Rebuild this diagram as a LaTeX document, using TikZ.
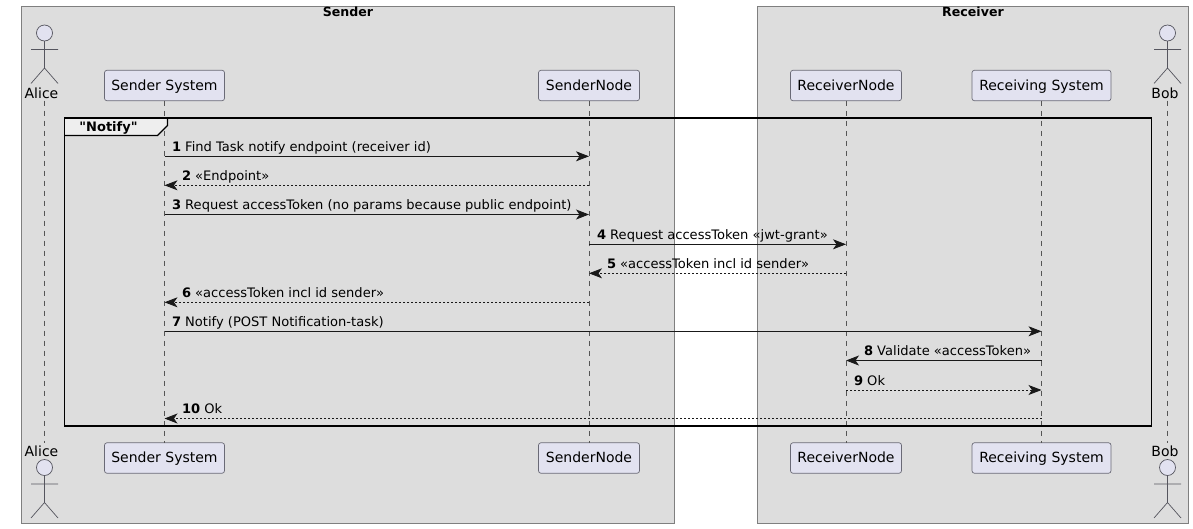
\documentclass[tikz,border=0pt]{standalone}
\usepackage{fontspec}
\setmainfont{DejaVu Sans}
% Family without the TeX ligature mapping, so straight quotes stay straight
\newfontfamily\plainquotes{DejaVu Sans}
\usetikzlibrary{arrows.meta}
\definecolor{boxgrey}{HTML}{DDDDDD}
\definecolor{boxedge}{HTML}{7F7F7F}
\definecolor{partfill}{HTML}{E2E2F0}
\definecolor{partedge}{HTML}{6A6A76}
\definecolor{lifegrey}{HTML}{555555}
\definecolor{tabfill}{HTML}{EEEEEE}
\tikzset{
  x=1pt, y=-1pt,
  every node/.style={font=\fontsize{13.05}{15}\selectfont, inner sep=0pt, outer sep=0pt},
  groupbox/.style={draw=boxedge, line width=0.9pt, fill=boxgrey},
  boxtitle/.style={font=\fontsize{12.6}{15}\selectfont\bfseries, anchor=base},
  participant/.style={draw=partedge, line width=0.7pt, fill=partfill, rounded corners=2.5pt, minimum height=30.5pt, text height=11pt, text depth=2pt, anchor=center, font=\fontsize{14}{16}\selectfont},
  actorlabel/.style={anchor=base, font=\fontsize{14}{16}\selectfont},
  actorshape/.style={draw=partedge!80!black, line width=0.7pt},
  lifeline/.style={draw=lifegrey, line width=0.55pt, dash pattern=on 5pt off 5pt},
  frameline/.style={draw=black, line width=1.5pt},
  syncmsg/.style={draw=black!90, line width=0.85pt, -{Stealth[length=13pt,width=10pt,inset=3.5pt]}},
  replymsg/.style={draw=black!90, line width=0.85pt, dash pattern=on 2pt off 2pt, -{Stealth[length=13pt,width=10pt,inset=3.5pt]}},
  msgtext/.style={anchor=base west},
}
% Stick figure standing under a head centred on the given point
\newcommand{\stickfigure}[2]{%
  \draw[actorshape, fill=partfill] (#1,#2) circle[radius=8pt];
  \draw[actorshape] (#1,#2+8) -- (#1,#2+35)
    (#1-13.5,#2+16.5) -- (#1+13.5,#2+16.5)
    (#1-13.5,#2+50.5) -- (#1,#2+35) -- (#1+13.5,#2+50.5);
}
\begin{document}
\begin{tikzpicture}
\useasboundingbox (0,0) rectangle (1193,528);

% Enclosing boxes
\path[groupbox] (21.5,6.5) rectangle (674.5,523);
\path[groupbox] (757.5,6.5) rectangle (1188.5,523);
\node[boxtitle] (sendertitle) at (348,16.5) {Sender};
\node[boxtitle] (receivertitle) at (973,16.5) {Receiver};

% Participants, top row
\node[participant, minimum width=120pt] (sys) at (164.5,85.5) {Sender System};
\node[participant, minimum width=101pt] (snode) at (589,85.5) {SenderNode};
\node[participant, minimum width=111pt] (rnode) at (846,85.5) {ReceiverNode};
\node[participant, minimum width=139pt] (rsys) at (1041.5,85.5) {Receiving System};
% Participants, bottom row
\node[participant, minimum width=120pt] (sysb) at (164.5,458) {Sender System};
\node[participant, minimum width=101pt] (snodeb) at (589,458) {SenderNode};
\node[participant, minimum width=111pt] (rnodeb) at (846,458) {ReceiverNode};
\node[participant, minimum width=139pt] (rsysb) at (1041.5,458) {Receiving System};

% Actors and their labels
\stickfigure{44.5}{33}
\stickfigure{1167.5}{33}
\stickfigure{44.5}{467.5}
\stickfigure{1167.5}{467.5}
\node[actorlabel] (alice) at (41.5,98) {Alice};
\node[actorlabel] (bob) at (1165,98) {Bob};
\node[actorlabel] (aliceb) at (41.5,456) {Alice};
\node[actorlabel] (bobb) at (1165,456) {Bob};
\coordinate (alicetop) at (44.5,100.5);
\coordinate (alicebot) at (44.5,443);
\coordinate (bobtop) at (1167.5,100.5);
\coordinate (bobbot) at (1167.5,443);

% Lifelines
\draw[lifeline] (alicetop) -- (alicebot);
\draw[lifeline] (sys.south) -- (sysb.north);
\draw[lifeline] (snode.south) -- (snodeb.north);
\draw[lifeline] (rnode.south) -- (rnodeb.north);
\draw[lifeline] (rsys.south) -- (rsysb.north);
\draw[lifeline] (bobtop) -- (bobbot);

% Fragment frame with its title tab
\path[fill=tabfill] (64.5,118) -- (167.5,118) -- (167.5,125.5) -- (157.5,135.5) -- (64.5,135.5) -- cycle;
\draw[frameline] (64.5,118) rectangle (1151.5,426);
\draw[frameline, line width=1.2pt] (167.5,118) -- (167.5,125.5) -- (157.5,135.5) -- (64.5,135.5);
\node[anchor=base, font=\fontsize{13}{15}\selectfont\plainquotes\bfseries] (grouptitle) at (108.5,131) {"Notify"};

% Message rows
\coordinate (m1) at (0,156.3);
\coordinate (m2) at (0,185.3);
\coordinate (m3) at (0,214.5);
\coordinate (m4) at (0,244.3);
\coordinate (m5) at (0,273.3);
\coordinate (m6) at (0,302.3);
\coordinate (m7) at (0,331.3);
\coordinate (m8) at (0,360.5);
\coordinate (m9) at (0,390);
\coordinate (m10) at (0,418.5);

\draw[syncmsg] (sys |- m1) -- (snode |- m1);
\draw[replymsg] (snode |- m2) -- (sys |- m2);
\draw[syncmsg] (sys |- m3) -- (snode |- m3);
\draw[syncmsg] (snode |- m4) -- (rnode |- m4);
\draw[replymsg] (rnode |- m5) -- (snode |- m5);
\draw[replymsg] (snode |- m6) -- (sys |- m6);
\draw[syncmsg] (sys |- m7) -- (rsys |- m7);
\draw[syncmsg] (rsys |- m8) -- (rnode |- m8);
\draw[replymsg] (rnode |- m9) -- (rsys |- m9);
\draw[replymsg] (rsys |- m10) -- (sys |- m10);

% Message labels
\node[msgtext] (l1) at (172,151.3) {\textbf{1} Find Task notify endpoint (receiver id)};
\node[msgtext] (l2) at (182,180.3) {\textbf{2} «Endpoint»};
\node[msgtext] (l3) at (172,209.5) {\textbf{3} Request accessToken (no params because public endpoint)};
\node[msgtext] (l4) at (597,239.3) {\textbf{4} Request accessToken «jwt-grant»};
\node[msgtext] (l5) at (607,268.3) {\textbf{5} «accessToken incl id sender»};
\node[msgtext] (l6) at (182,297.3) {\textbf{6} «accessToken incl id sender»};
\node[msgtext] (l7) at (172,326.3) {\textbf{7} Notify (POST Notification-task)};
\node[msgtext] (l8) at (864,355.5) {\textbf{8} Validate «accessToken»};
\node[msgtext] (l9) at (854,385) {\textbf{9} Ok};
\node[msgtext] (l10) at (182,413.5) {\textbf{10} Ok};
\end{tikzpicture}
\end{document}
